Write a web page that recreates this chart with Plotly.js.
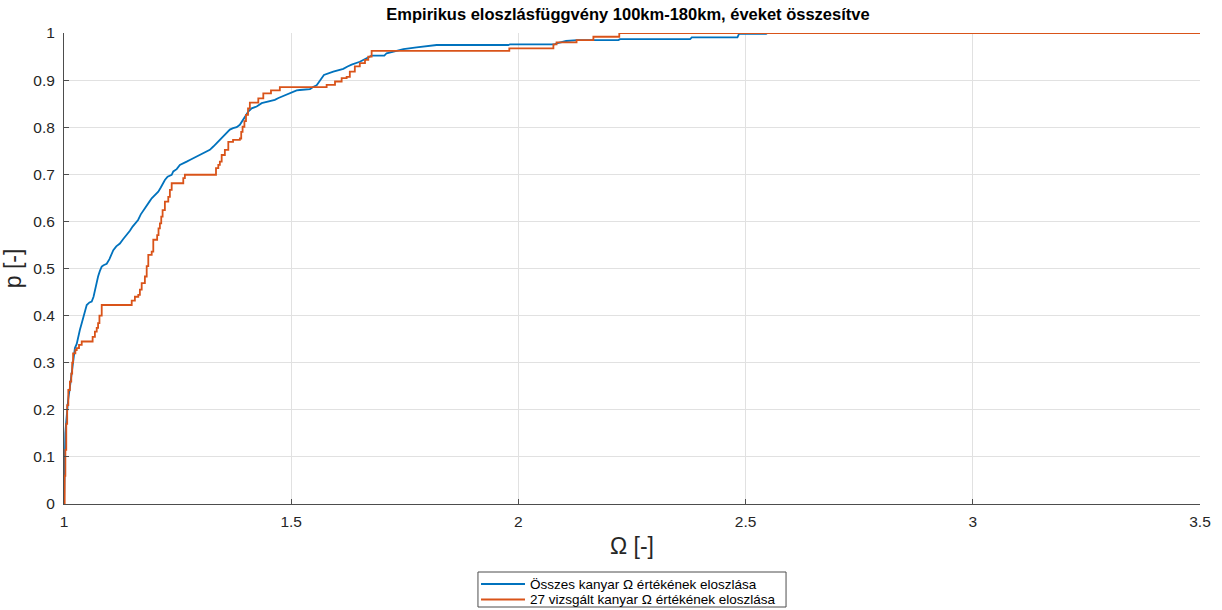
<!DOCTYPE html>
<html>
<head>
<meta charset="utf-8">
<script src="https://cdn.plot.ly/plotly-3.0.1.min.js"></script>
<style>
  html, body { margin: 0; padding: 0; background: #ffffff; }
  #chart { width: 1222px; height: 610px; }
</style>
</head>
<body>
<div id="chart"></div>
<script>
// Empirical CDF of Ω for all curves (vertices of the traced curve: Ω value, cumulative probability)
const allOmega = [
  1.000, 1.0007, 1.0015, 1.003, 1.0045, 1.0059, 1.009, 1.0132, 1.017, 1.0205,
  1.024, 1.028, 1.031, 1.035, 1.039, 1.0425, 1.046, 1.050, 1.056, 1.061,
  1.065, 1.068, 1.072, 1.075, 1.079, 1.083, 1.087, 1.094, 1.100, 1.104,
  1.1085, 1.115, 1.123, 1.130, 1.138, 1.145, 1.151, 1.158, 1.163, 1.169,
  1.176, 1.182, 1.188, 1.193, 1.200, 1.2075, 1.213, 1.218, 1.222, 1.228,
  1.237, 1.2405, 1.248, 1.255, 1.262, 1.270, 1.278, 1.2845, 1.292, 1.299,
  1.306, 1.314, 1.321, 1.3286, 1.335, 1.343, 1.350, 1.358, 1.365, 1.372,
  1.380, 1.387, 1.392, 1.398, 1.4056, 1.413, 1.424, 1.435, 1.4496, 1.464,
  1.472, 1.479, 1.488, 1.497, 1.505, 1.512, 1.519, 1.534, 1.5414, 1.549,
  1.556, 1.5596, 1.566, 1.572, 1.5926, 1.6147, 1.624, 1.633, 1.651, 1.666,
  1.677, 1.705, 1.710, 1.732, 1.747, 1.776, 1.798, 1.820, 1.978, 1.9815,
  2.080, 2.084, 2.105, 2.130, 2.220, 2.2236, 2.378, 2.3816, 2.482, 2.4855,
  2.545, 2.548
];
const allP = [
  0, 0.05, 0.106, 0.15, 0.17, 0.193, 0.22, 0.249, 0.28, 0.313,
  0.331, 0.34, 0.355, 0.37, 0.384, 0.395, 0.41, 0.4225, 0.428, 0.430,
  0.44, 0.454, 0.47, 0.483, 0.495, 0.504, 0.507, 0.51, 0.52, 0.53,
  0.539, 0.547, 0.553, 0.562, 0.571, 0.58, 0.589, 0.596, 0.603, 0.615,
  0.626, 0.635, 0.642, 0.649, 0.656, 0.663, 0.672, 0.682, 0.688, 0.695,
  0.699, 0.706, 0.711, 0.72, 0.724, 0.727, 0.731, 0.734, 0.738, 0.741,
  0.745, 0.748, 0.752, 0.759, 0.765, 0.773, 0.78, 0.787, 0.795, 0.798,
  0.80, 0.805, 0.812, 0.822, 0.833, 0.840, 0.844, 0.851, 0.854, 0.858,
  0.862, 0.865, 0.869, 0.872, 0.876, 0.878, 0.879, 0.880, 0.881, 0.886,
  0.889, 0.894, 0.902, 0.911, 0.918, 0.924, 0.929, 0.933, 0.939, 0.946,
  0.952, 0.952, 0.957, 0.962, 0.966, 0.9696, 0.972, 0.9745, 0.9745, 0.976,
  0.976, 0.978, 0.983, 0.985, 0.985, 0.987, 0.987, 0.9905, 0.9905, 0.998,
  0.998, 1.0
];

// Empirical CDF of Ω for the 27 examined curves (step points)
const sampleOmega = [
  1.000, 1.0015, 1.003, 1.005, 1.007, 1.0095, 1.013, 1.016, 1.018, 1.020,
  1.025, 1.028, 1.033, 1.039, 1.063, 1.068, 1.072, 1.075, 1.078, 1.083,
  1.149, 1.156, 1.1635, 1.167, 1.171, 1.178, 1.182, 1.1855, 1.193, 1.1965,
  1.205, 1.208, 1.211, 1.214, 1.217, 1.222, 1.2295, 1.233, 1.237, 1.2625,
  1.266, 1.3345, 1.3396, 1.343, 1.347, 1.354, 1.3616, 1.372, 1.387, 1.390,
  1.393, 1.397, 1.4005, 1.405, 1.409, 1.4276, 1.4386, 1.4555, 1.475, 1.578,
  1.5964, 1.611, 1.622, 1.629, 1.640, 1.651, 1.6624, 1.6696, 1.677, 1.980,
  2.077, 2.084, 2.128, 2.165, 2.222, 3.5
];
const sampleP = [
  0, 0.06, 0.115, 0.17, 0.21, 0.242, 0.26, 0.277, 0.30, 0.32,
  0.327, 0.331, 0.338, 0.345, 0.355, 0.366, 0.374, 0.384, 0.40, 0.4225,
  0.432, 0.440, 0.444, 0.455, 0.469, 0.483, 0.505, 0.529, 0.536, 0.561,
  0.571, 0.585, 0.596, 0.61, 0.624, 0.642, 0.652, 0.667, 0.681, 0.692,
  0.699, 0.713, 0.720, 0.727, 0.741, 0.752, 0.769, 0.773, 0.776, 0.790,
  0.801, 0.813, 0.826, 0.84, 0.852, 0.861, 0.872, 0.878, 0.885, 0.890,
  0.897, 0.904, 0.907, 0.918, 0.929, 0.936, 0.943, 0.950, 0.962, 0.9675,
  0.976, 0.980, 0.985, 0.992, 1.0, 1.0
];

const legendNames = [
  'Összes kanyar Ω értékének eloszlása',
  '27 vizsgált kanyar Ω értékének eloszlása'
];
const seriesColors = ['#0072BD', '#D95319'];
const xTicks = [1, 1.5, 2, 2.5, 3, 3.5];
const yTicks = [0, 0.1, 0.2, 0.3, 0.4, 0.5, 0.6, 0.7, 0.8, 0.9, 1];

const FONT = 'Liberation Sans, Arial, Helvetica, sans-serif';
const AXIS_COLOR = '#4d4d4d';
const GRID_COLOR = '#e1e1e1';
const TEXT_COLOR = '#262626';

const traces = [
  {
    x: allOmega, y: allP, type: 'scatter', mode: 'lines',
    line: { color: seriesColors[0], width: 1.8, shape: 'linear' },
    name: legendNames[0], showlegend: false
  },
  {
    x: sampleOmega, y: sampleP, type: 'scatter', mode: 'lines',
    line: { color: seriesColors[1], width: 1.8, shape: 'hv' },
    name: legendNames[1], showlegend: false
  }
];

// Boxed legend below the axes, in paper coordinates
const legBox = { x0: 0.3644, x1: 0.6356, y0: -0.2187, y1: -0.1444 };
const legRowsY = [-0.1699, -0.2028];
const legLine = { x0: 0.3671, x1: 0.4058 };
const legTextX = 0.4085;

const shapes = [
  {
    type: 'rect', xref: 'paper', yref: 'paper',
    x0: legBox.x0, x1: legBox.x1, y0: legBox.y0, y1: legBox.y1,
    line: { color: '#4d4d4d', width: 1 }, fillcolor: '#ffffff'
  }
];
const annotations = [];
legendNames.forEach((name, i) => {
  shapes.push({
    type: 'line', xref: 'paper', yref: 'paper',
    x0: legLine.x0, x1: legLine.x1, y0: legRowsY[i], y1: legRowsY[i],
    line: { color: seriesColors[i], width: 1.8 }
  });
  annotations.push({
    xref: 'paper', yref: 'paper', x: legTextX, y: legRowsY[i],
    xanchor: 'left', yanchor: 'middle', showarrow: false,
    text: name, font: { family: FONT, size: 13.5, color: '#000000' }
  });
});

const layout = {
  width: 1222, height: 610,
  margin: { l: 64, r: 22, t: 33, b: 106 },
  paper_bgcolor: '#ffffff', plot_bgcolor: '#ffffff',
  font: { family: FONT, color: TEXT_COLOR },
  title: {
    text: '<b>Empirikus eloszlásfüggvény 100km-180km, éveket összesítve</b>',
    font: { family: FONT, size: 16.5, color: '#000000' },
    x: 0.5139, xanchor: 'center', xref: 'container',
    y: 0.977, yanchor: 'middle', yref: 'container'
  },
  xaxis: {
    range: [1, 3.5], tickvals: xTicks, ticktext: xTicks.map(String),
    showgrid: true, gridcolor: GRID_COLOR, gridwidth: 1,
    zeroline: false, showline: true, linecolor: AXIS_COLOR, linewidth: 1,
    ticks: 'inside', ticklen: 5, tickcolor: AXIS_COLOR,
    ticklabelstandoff: 3,
    tickfont: { family: FONT, size: 15.5, color: TEXT_COLOR },
    title: { text: 'Ω [-]', font: { family: FONT, size: 23, color: TEXT_COLOR }, standoff: 9 },
    automargin: false
  },
  yaxis: {
    range: [0, 1], tickvals: yTicks, ticktext: yTicks.map(String),
    showgrid: true, gridcolor: GRID_COLOR, gridwidth: 1,
    zeroline: false, showline: true, linecolor: AXIS_COLOR, linewidth: 1,
    ticks: 'inside', ticklen: 5, tickcolor: AXIS_COLOR,
    ticklabelstandoff: 5,
    tickfont: { family: FONT, size: 15.5, color: TEXT_COLOR },
    title: { text: 'p [-]', font: { family: FONT, size: 23, color: TEXT_COLOR }, standoff: 6 },
    automargin: false
  },
  showlegend: false,
  shapes: shapes,
  annotations: annotations
};

Plotly.newPlot('chart', traces, layout, { staticPlot: true, displayModeBar: false });
</script>
</body>
</html>
